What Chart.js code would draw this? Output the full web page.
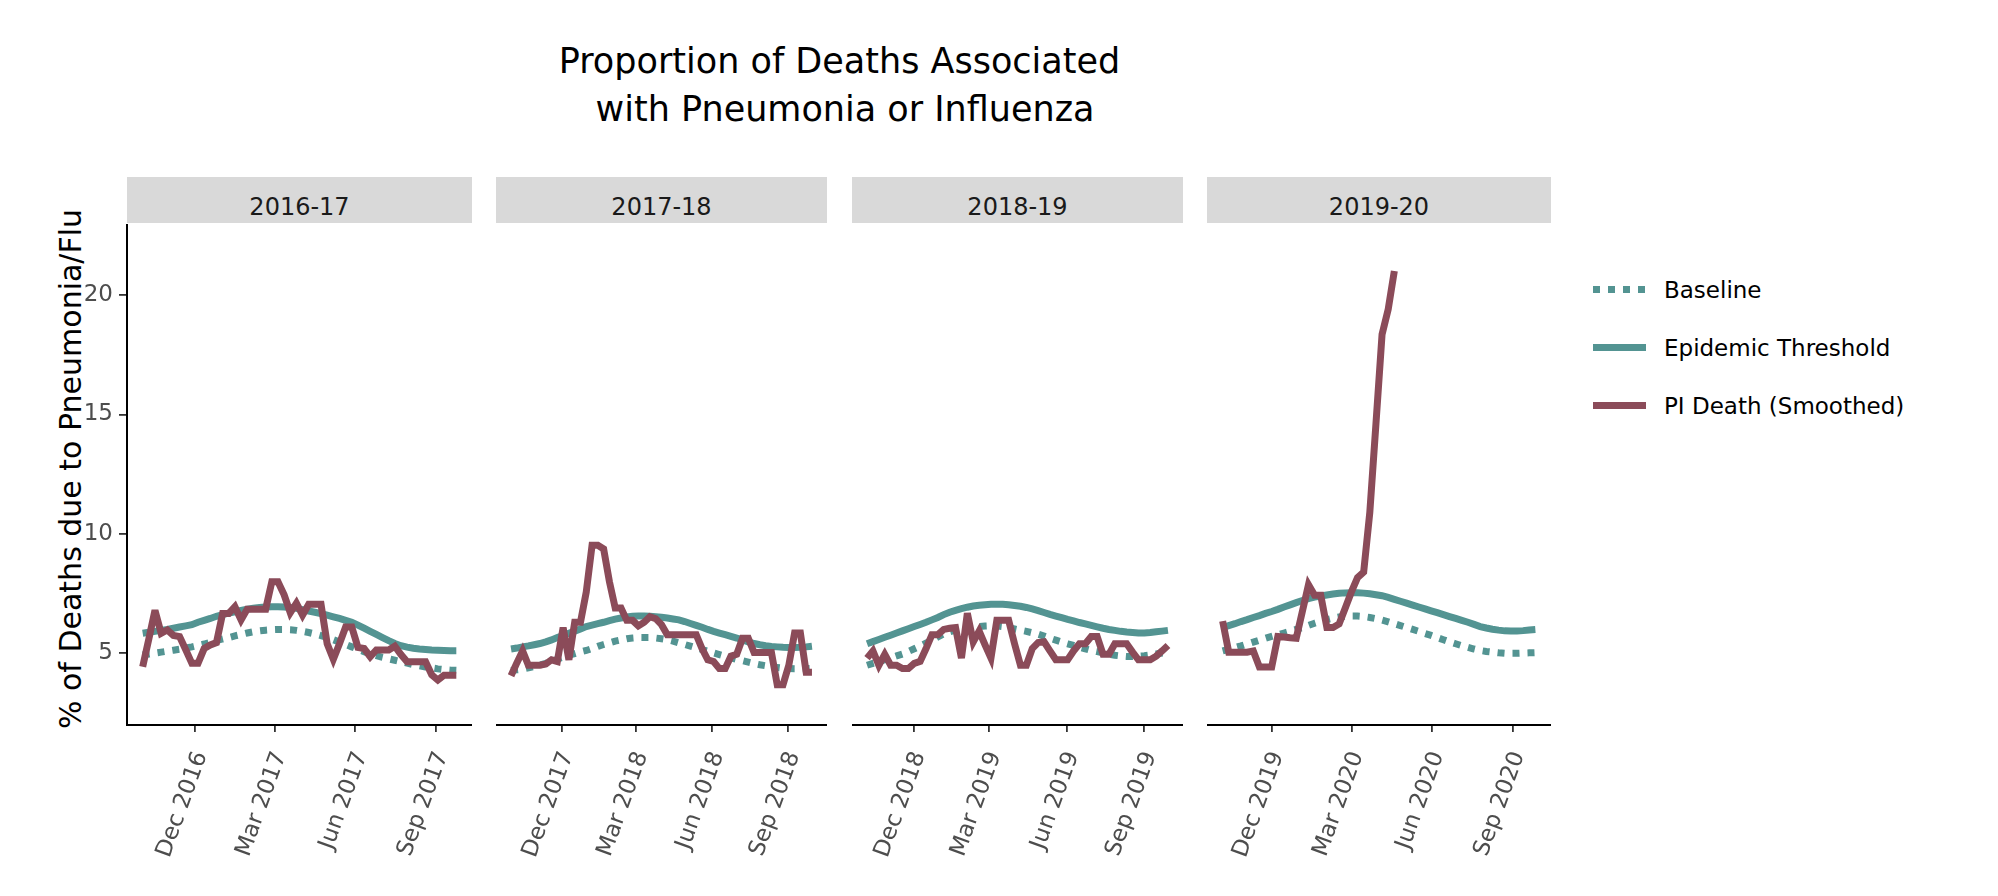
<!DOCTYPE html>
<html>
<head>
<meta charset="utf-8">
<script src="https://cdn.jsdelivr.net/npm/chart.js@4.4.1/dist/chart.umd.min.js"></script>
<style>
  html, body { margin: 0; padding: 0; background: #fff; }
  body { width: 1998px; height: 896px; position: relative; overflow: hidden; font-family: 'DejaVu Sans', sans-serif; }
  .title { position: absolute; left: 0; top: 37px; width: 1679px; text-align: center; font-size: 35px; line-height: 48px; color: #000; white-space: pre; }
  .ytitle { position: absolute; left: -228.7px; top: 451px; width: 600px; height: 36px; line-height: 36px; text-align: center; font-size: 30px; color: #000; transform: rotate(-90deg); white-space: nowrap; }
  .strip { position: absolute; top: 177px; height: 46px; background: #d9d9d9; }
  .strip span { position: absolute; left: 0; right: 0; top: 18px; text-align: center; font-size: 24px; line-height: 24px; color: #1a1a1a; }
  canvas { position: absolute; top: 224px; }
  .swatch { position: absolute; left: 1593px; width: 53px; height: 7px; }
  .legtext { position: absolute; left: 1664px; font-size: 23px; line-height: 30px; color: #000; white-space: nowrap; }
</style>
</head>
<body>
<div class="title">Proportion of Deaths Associated<br> with Pneumonia or Influenza</div>
<div class="ytitle">% of Deaths due to Pneumonia/Flu</div>
<div id="legend"></div>
<script>
// seasons and first week (MMWR week 40) of each
const seasons = ['2016-17', '2017-18', '2018-19', '2019-20'];
const seasonStart = ['2016-10-02', '2017-10-01', '2018-10-07', '2019-10-06'];

const tickDates = [
    ['2016-12-01', '2017-03-01', '2017-06-01', '2017-09-01'],
    ['2017-12-01', '2018-03-01', '2018-06-01', '2018-09-01'],
    ['2018-12-01', '2019-03-01', '2019-06-01', '2019-09-01'],
    ['2019-12-01', '2020-03-01', '2020-06-01', '2020-09-01']
];
const yTicks = [5, 10, 15, 20];

// weekly values, % of deaths
const pi1617 = [4.44, 5.6, 6.8, 5.84, 5.98, 5.75, 5.7, 5.15, 4.58, 4.58, 5.2, 5.35, 5.45, 6.67, 6.67, 6.95, 6.4, 6.85, 6.85, 6.85,
    6.85, 8.0, 8.0, 7.45, 6.7, 7.1, 6.6, 7.05, 7.05, 7.05, 5.4, 4.75, 5.4, 6.1, 6.1, 5.25, 5.2, 4.86, 5.14, 5.14,
    5.14, 5.3, 4.95, 4.65, 4.65, 4.65, 4.65, 4.1, 3.88, 4.08, 4.08, 4.08];
const thresh1617 = [5.84, 5.88, 5.92, 5.96, 6.0, 6.05, 6.1, 6.15, 6.2, 6.3, 6.38, 6.46, 6.55, 6.62, 6.68, 6.74, 6.8, 6.85, 6.89, 6.92,
    6.94, 6.95, 6.95, 6.94, 6.92, 6.88, 6.83, 6.77, 6.72, 6.66, 6.6, 6.53, 6.46, 6.38, 6.3, 6.18, 6.05, 5.92, 5.79, 5.66,
    5.53, 5.41, 5.32, 5.26, 5.21, 5.18, 5.16, 5.14, 5.13, 5.12, 5.11, 5.11];
const base1617 = [4.93, 4.97, 5.01, 5.05, 5.09, 5.13, 5.17, 5.22, 5.27, 5.33, 5.39, 5.46, 5.53, 5.6, 5.66, 5.73, 5.79, 5.85, 5.9, 5.94,
    5.97, 5.99, 6.0, 6.0, 5.99, 5.96, 5.92, 5.87, 5.81, 5.74, 5.66, 5.57, 5.47, 5.37, 5.27, 5.17, 5.07, 4.98, 4.9, 4.83,
    4.77, 4.71, 4.65, 4.59, 4.53, 4.48, 4.43, 4.39, 4.35, 4.32, 4.3, 4.29];

const pi1718 = [4.06, 4.6, 5.1, 4.5, 4.5, 4.5, 4.55, 4.73, 4.66, 6.08, 4.73, 6.3, 6.3, 7.57, 9.52, 9.52, 9.37, 8.0, 6.9, 6.9,
    6.38, 6.38, 6.15, 6.3, 6.53, 6.45, 6.2, 5.78, 5.78, 5.78, 5.78, 5.78, 5.78, 5.2, 4.73, 4.66, 4.36, 4.36, 4.88, 4.96,
    5.63, 5.63, 5.03, 5.03, 5.03, 5.03, 3.68, 3.68, 4.5, 5.85, 5.85, 4.21, 4.21];
const thresh1718 = [5.18, 5.22, 5.27, 5.31, 5.36, 5.41, 5.48, 5.56, 5.66, 5.75, 5.84, 5.93, 6.02, 6.12, 6.18, 6.24, 6.3, 6.37, 6.43, 6.48,
    6.52, 6.55, 6.56, 6.56, 6.55, 6.53, 6.51, 6.48, 6.44, 6.4, 6.33, 6.25, 6.17, 6.09, 6.0, 5.92, 5.85, 5.78, 5.71, 5.64,
    5.56, 5.48, 5.41, 5.36, 5.32, 5.29, 5.27, 5.25, 5.24, 5.24, 5.25, 5.27, 5.3];
const base1718 = [4.28, 4.31, 4.34, 4.39, 4.45, 4.51, 4.58, 4.66, 4.75, 4.84, 4.92, 4.99, 5.06, 5.12, 5.2, 5.29, 5.37, 5.44, 5.51, 5.56,
    5.61, 5.64, 5.66, 5.66, 5.66, 5.64, 5.61, 5.57, 5.51, 5.44, 5.37, 5.3, 5.23, 5.16, 5.09, 5.02, 4.95, 4.88, 4.81, 4.75,
    4.69, 4.63, 4.57, 4.52, 4.48, 4.44, 4.41, 4.38, 4.36, 4.35, 4.35, 4.36, 4.37];

const pi1819 = [4.8, 5.1, 4.5, 4.96, 4.5, 4.5, 4.36, 4.36, 4.58, 4.66, 5.2, 5.78, 5.78, 6.0, 6.05, 6.08, 4.8, 6.68, 5.48, 5.93,
    5.35, 4.8, 6.38, 6.38, 6.38, 5.4, 4.5, 4.5, 5.2, 5.45, 5.48, 5.1, 4.73, 4.73, 4.73, 5.1, 5.4, 5.4, 5.7, 5.7,
    4.96, 4.96, 5.4, 5.4, 5.4, 5.05, 4.73, 4.73, 4.73, 4.88, 5.1, 5.33];
const thresh1819 = [5.4, 5.49, 5.58, 5.67, 5.76, 5.85, 5.94, 6.03, 6.12, 6.21, 6.3, 6.4, 6.5, 6.62, 6.72, 6.8, 6.87, 6.93, 6.98, 7.01,
    7.03, 7.05, 7.05, 7.05, 7.03, 7.0, 6.97, 6.92, 6.86, 6.79, 6.71, 6.63, 6.56, 6.49, 6.42, 6.36, 6.29, 6.23, 6.17, 6.11,
    6.05, 6.0, 5.96, 5.92, 5.89, 5.87, 5.85, 5.85, 5.87, 5.9, 5.93, 5.96];
const base1819 = [4.5, 4.58, 4.65, 4.73, 4.81, 4.89, 4.97, 5.08, 5.19, 5.3, 5.43, 5.56, 5.69, 5.82, 5.9, 5.97, 6.03, 6.07, 6.1, 6.12,
    6.14, 6.15, 6.15, 6.12, 6.07, 6.02, 5.97, 5.92, 5.86, 5.8, 5.72, 5.63, 5.55, 5.47, 5.4, 5.33, 5.26, 5.19, 5.12, 5.07,
    5.02, 4.97, 4.92, 4.89, 4.87, 4.87, 4.88, 4.9, 4.93, 4.97, 5.01, 5.04];

const pi1920 = [6.35, 5.05, 5.05, 5.05, 5.05, 5.1, 4.43, 4.43, 4.43, 5.7, 5.68, 5.65, 5.63, 6.75, 7.87, 7.43, 7.43, 6.08, 6.08, 6.23,
    6.9, 7.57, 8.17, 8.4, 10.9, 14.6, 18.35, 19.4, 21.0];
const thresh1920 = [6.08, 6.16, 6.24, 6.33, 6.41, 6.5, 6.58, 6.67, 6.75, 6.84, 6.94, 7.03, 7.12, 7.21, 7.29, 7.35, 7.4, 7.44, 7.48, 7.51,
    7.53, 7.54, 7.54, 7.52, 7.49, 7.45, 7.41, 7.34, 7.26, 7.18, 7.1, 7.02, 6.94, 6.86, 6.78, 6.7, 6.62, 6.54, 6.46, 6.38,
    6.3, 6.21, 6.12, 6.06, 6.01, 5.97, 5.94, 5.93, 5.93, 5.95, 5.98, 6.0];
const base1920 = [5.1, 5.17, 5.24, 5.31, 5.39, 5.47, 5.55, 5.63, 5.71, 5.78, 5.85, 5.92, 6.0, 6.08, 6.17, 6.26, 6.34, 6.41, 6.47, 6.52,
    6.55, 6.56, 6.56, 6.54, 6.5, 6.45, 6.39, 6.32, 6.24, 6.16, 6.08, 6.0, 5.92, 5.83, 5.75, 5.66, 5.57, 5.48, 5.4, 5.32,
    5.25, 5.18, 5.12, 5.08, 5.05, 5.02, 5.0, 5.0, 5.0, 5.01, 5.02, 5.03];

const piSeries = [pi1617, pi1718, pi1819, pi1920];
const threshSeries = [thresh1617, thresh1718, thresh1819, thresh1920];
const baseSeries = [base1617, base1718, base1819, base1920];

// panel geometry on the page
const panelLeft = [127, 496, 852, 1207];
const panelRight = [472, 827, 1183, 1551];
const yAxisWidth = 127;
const xAxisHeight = 171;
const plotTop = 224;

const TEAL = '#539492';
const MAROON = '#8b4b59';
const LINE_W = 7;
const DAY = 86400000;
const MONTHS = ['Jan', 'Feb', 'Mar', 'Apr', 'May', 'Jun', 'Jul', 'Aug', 'Sep', 'Oct', 'Nov', 'Dec'];
const FONT = 'DejaVu Sans';

const toTime = (s) => Date.parse(s + 'T00:00:00Z');

const weekly = (start, values) => {
    const t0 = toTime(start);
    return values.map((v, i) => ({ x: t0 + i * 7 * DAY, y: v }));
};

const fmtTick = (v) => {
    const d = new Date(v);
    return MONTHS[d.getUTCMonth()] + ' ' + d.getUTCFullYear();
};

// svg-like joins: miter, but fall back to bevel on sharp corners
const miterPlugin = {
    id: 'miter',
    beforeDatasetsDraw: (chart) => { chart.ctx.miterLimit = 4; }
};

const drawPanel = (k) => {
    const first = k === 0;
    const left = first ? 0 : panelLeft[k];
    const width = panelRight[k] - left;

    // strip on top of the panel
    const strip = document.createElement('div');
    strip.className = 'strip';
    strip.style.left = panelLeft[k] + 'px';
    strip.style.width = (panelRight[k] - panelLeft[k]) + 'px';
    strip.innerHTML = '<span>' + seasons[k] + '</span>';
    document.body.appendChild(strip);

    const canvas = document.createElement('canvas');
    canvas.width = width;
    canvas.height = 896 - plotTop;
    canvas.style.left = left + 'px';
    document.body.appendChild(canvas);

    // x range: full season span expanded by 5% each side
    const t0 = toTime(seasonStart[k]);
    const t1 = t0 + (threshSeries[k].length - 1) * 7 * DAY;
    const pad = (t1 - t0) * 0.05;

    new Chart(canvas, {
        type: 'line',
        data: {
            datasets: [
                { label: 'PI Death (Smoothed)', data: weekly(seasonStart[k], piSeries[k]), borderColor: MAROON, borderWidth: LINE_W },
                { label: 'Epidemic Threshold', data: weekly(seasonStart[k], threshSeries[k]), borderColor: TEAL, borderWidth: LINE_W },
                { label: 'Baseline', data: weekly(seasonStart[k], baseSeries[k]), borderColor: TEAL, borderWidth: LINE_W, borderDash: [7, 8] }
            ]
        },
        plugins: [miterPlugin],
        options: {
            responsive: false,
            animation: false,
            devicePixelRatio: 1,
            layout: { padding: 0 },
            elements: { point: { radius: 0 }, line: { tension: 0, fill: false, borderCapStyle: 'butt', borderJoinStyle: 'miter' } },
            plugins: { legend: { display: false }, tooltip: { enabled: false } },
            scales: {
                x: {
                    type: 'linear',
                    position: 'bottom',
                    min: t0 - pad,
                    max: t1 + pad,
                    bounds: 'data',
                    afterBuildTicks: (s) => { s.ticks = tickDates[k].map((d) => ({ value: toTime(d) })); },
                    afterFit: (s) => { s.height = xAxisHeight; s.paddingLeft = 0; s.paddingRight = 0; },
                    ticks: {
                        autoSkip: false, minRotation: 70, maxRotation: 70, padding: 16, labelOffset: 6,
                        color: '#4d4d4d', font: { family: FONT, size: 23 },
                        callback: (v) => fmtTick(v)
                    },
                    grid: { drawOnChartArea: false, drawTicks: true, tickLength: 7, color: '#333', lineWidth: 1.8 },
                    border: { display: true, color: '#000', width: 2 }
                },
                y: {
                    type: 'linear',
                    display: first,
                    min: 2.0,
                    max: 22.97,
                    bounds: 'data',
                    afterBuildTicks: (s) => { s.ticks = yTicks.map((v) => ({ value: v })); },
                    afterFit: (s) => {
                        s.width = first ? yAxisWidth : 0;
                        s.paddingTop = 0;
                        s.paddingBottom = 0;
                    },
                    ticks: { padding: 6, color: '#4d4d4d', font: { family: FONT, size: 23 } },
                    grid: { drawOnChartArea: false, drawTicks: true, tickLength: 8, color: '#333', lineWidth: 1.8 },
                    border: { display: true, color: '#000', width: 2 }
                }
            }
        }
    });
};

seasons.forEach((s, k) => drawPanel(k));

// legend
const legendItems = [
    { label: 'Baseline', dotted: true, color: TEAL },
    { label: 'Epidemic Threshold', dotted: false, color: TEAL },
    { label: 'PI Death (Smoothed)', dotted: false, color: MAROON }
];
const legend = document.getElementById('legend');
legendItems.forEach((item, i) => {
    const cy = 289 + i * 58;
    const sw = document.createElement('div');
    sw.className = 'swatch';
    sw.style.top = (cy - 3.5) + 'px';
    sw.style.background = item.dotted
        ? `repeating-linear-gradient(to right, ${item.color} 0 7px, transparent 7px 15px)`
        : item.color;
    legend.appendChild(sw);
    const tx = document.createElement('div');
    tx.className = 'legtext';
    tx.style.top = (cy - 14.3) + 'px';
    tx.textContent = item.label;
    legend.appendChild(tx);
});
</script>
</body>
</html>
